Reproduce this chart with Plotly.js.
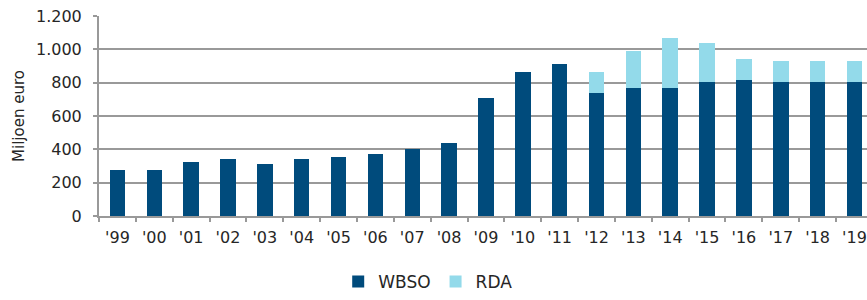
<!DOCTYPE html>
<html>
<head>
<meta charset="utf-8">
<script src="https://cdn.plot.ly/plotly-3.0.1.min.js"></script>
<style>html,body{margin:0;padding:0;background:#fff;}</style>
</head>
<body>
<div id="chart" style="width:867px;height:300px;"></div>
<script>
const years = ["'99","'00","'01","'02","'03","'04","'05","'06","'07","'08","'09","'10","'11","'12","'13","'14","'15","'16","'17","'18","'19"];
const wbso = [278, 278, 325, 341, 311, 341, 357, 373, 405, 437, 707, 866, 913, 738, 770, 770, 803, 817, 803, 803, 803];
const rda  = [0, 0, 0, 0, 0, 0, 0, 0, 0, 0, 0, 0, 0, 129, 222, 301, 236, 127, 125, 125, 125];
const yTicks = [0, 200, 400, 600, 800, 1000, 1200];
const yTickLabels = ["0", "200", "400", "600", "800", "1.000", "1.200"];

const font = {family: "DejaVu Sans, sans-serif", size: 16, color: "#262626"};

const traces = [
  {type: "bar", name: "WBSO", x: years, y: wbso, marker: {color: "#004B7C"}, width: 0.42},
  {type: "bar", name: "RDA", x: years, y: rda, marker: {color: "#93DAEA"}, width: 0.42}
];

const layout = {
  width: 867, height: 300,
  margin: {l: 99, r: 0, t: 16, b: 83},
  barmode: "stack",
  paper_bgcolor: "#fff", plot_bgcolor: "#fff",
  font: font,
  showlegend: true,
  legend: {orientation: "h", x: 0.428, xanchor: "center", y: -0.4165, yanchor: "bottom",
           font: {family: "DejaVu Sans, sans-serif", size: 17, color: "#262626"},
           traceorder: "normal", itemwidth: 30},
  xaxis: {
    type: "category", range: [-0.5, 20.34],
    showline: true, linecolor: "#999", linewidth: 2,
    ticks: "outside", tickson: "boundaries", ticklen: 4, tickcolor: "#999", tickwidth: 2,
    showgrid: false, tickfont: font, fixedrange: true, automargin: false,
    ticklabelstandoff: 6
  },
  yaxis: {
    range: [0, 1200], tickvals: yTicks, ticktext: yTickLabels,
    showline: true, linecolor: "#999", linewidth: 2,
    ticks: "outside", ticklen: 4, tickcolor: "#999", tickwidth: 2,
    showgrid: true, gridcolor: "#999", gridwidth: 2,
    zeroline: false, tickfont: font, ticklabelstandoff: 8, automargin: false,
    title: {text: "Miljoen euro", font: {family: "DejaVu Sans, sans-serif", size: 15, color: "#262626"}, standoff: 8}
  }
};

Plotly.newPlot("chart", traces, layout, {displayModeBar: false, staticPlot: true});
</script>
</body>
</html>
